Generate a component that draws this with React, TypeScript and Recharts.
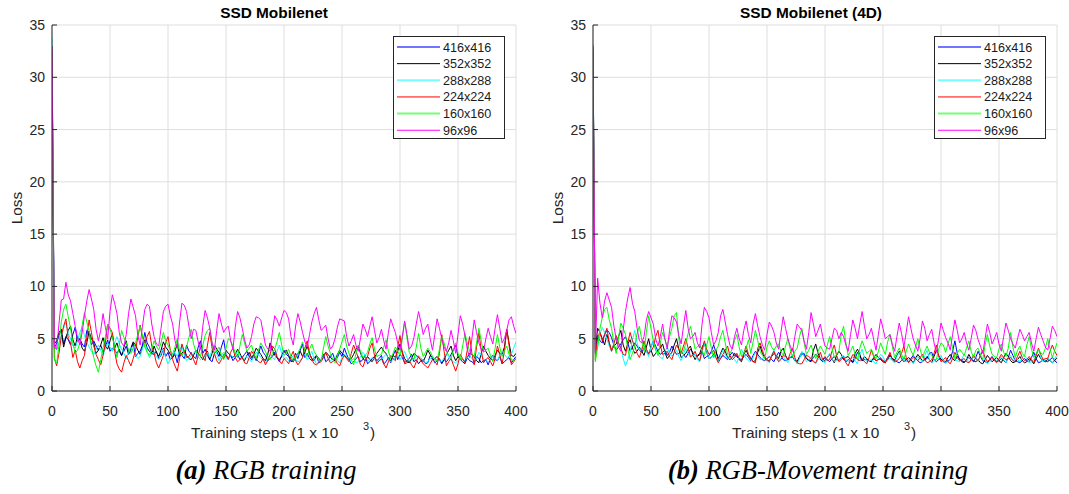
import React from 'react';
import { LineChart, Line, XAxis, YAxis, CartesianGrid, Legend } from 'recharts';

const steps = [
  0,
  2, 4, 6, 8, 10, 12, 14, 16, 18, 20,
  22, 24, 26, 28, 30, 32, 34, 36, 38, 40,
  42, 44, 46, 48, 50, 52, 54, 56, 58, 60,
  62, 64, 66, 68, 70, 72, 74, 76, 78, 80,
  82, 84, 86, 88, 90, 92, 94, 96, 98, 100,
  102, 104, 106, 108, 110, 112, 114, 116, 118, 120,
  122, 124, 126, 128, 130, 132, 134, 136, 138, 140,
  142, 144, 146, 148, 150, 152, 154, 156, 158, 160,
  162, 164, 166, 168, 170, 172, 174, 176, 178, 180,
  182, 184, 186, 188, 190, 192, 194, 196, 198, 200,
  202, 204, 206, 208, 210, 212, 214, 216, 218, 220,
  222, 224, 226, 228, 230, 232, 234, 236, 238, 240,
  242, 244, 246, 248, 250, 252, 254, 256, 258, 260,
  262, 264, 266, 268, 270, 272, 274, 276, 278, 280,
  282, 284, 286, 288, 290, 292, 294, 296, 298, 300,
  302, 304, 306, 308, 310, 312, 314, 316, 318, 320,
  322, 324, 326, 328, 330, 332, 334, 336, 338, 340,
  342, 344, 346, 348, 350, 352, 354, 356, 358, 360,
  362, 364, 366, 368, 370, 372, 374, 376, 378, 380,
  382, 384, 386, 388, 390, 392, 394, 396, 398, 400,
];

const seriesNames = ['416x416', '352x352', '288x288', '224x224', '160x160', '96x96'];
const seriesColors = ['#0000ff', '#000000', '#00ffff', '#ff0000', '#00ff00', '#ff00ff'];
const xTicks = [0, 50, 100, 150, 200, 250, 300, 350, 400];
const yTicks = [0, 5, 10, 15, 20, 25, 30, 35];

// ---------- (a) RGB training ----------
const rgb416 = [
  32,
  4.0, 4.6, 5.3, 5.9, 4.5, 5.2, 4.9, 4.4, 5.4, 6.1,
  4.7, 5.0, 4.5, 4.2, 5.8, 5.6, 4.4, 4.8, 4.3, 3.9,
  4.4, 3.7, 4.2, 4.9, 3.8, 4.1, 3.9, 3.6, 4.0, 3.4,
  3.8, 4.3, 3.5, 3.9, 4.6, 3.3, 3.6, 3.8, 4.4, 5.6,
  4.6, 4.2, 3.6, 3.5, 3.8, 3.1, 3.4, 4.1, 3.3, 3.7,
  3.0, 3.2, 3.5, 2.7, 3.9, 3.4, 3.1, 4.4, 3.8, 3.6,
  3.3, 3.1, 4.2, 4.8, 3.6, 4.0, 3.4, 3.0, 2.8, 3.6,
  3.8, 3.3, 4.2, 4.9, 3.5, 3.1, 3.4, 2.9, 3.2, 3.5,
  3.0, 3.2, 3.5, 3.8, 3.3, 3.0, 3.4, 2.9, 3.6, 4.3,
  3.7, 3.4, 2.9, 3.1, 3.3, 3.7, 3.2, 2.8, 3.4, 3.9,
  3.5, 3.3, 2.8, 2.9, 3.6, 3.1, 3.9, 4.5, 3.2, 3.6,
  3.1, 2.9, 3.2, 3.4, 2.7, 3.0, 3.5, 2.8, 3.0, 3.3,
  3.6, 2.9, 3.2, 3.7, 3.3, 4.1, 3.5, 3.0, 2.6, 2.8,
  3.1, 3.3, 2.8, 3.0, 3.4, 2.6, 2.8, 3.1, 3.3, 2.9,
  3.1, 3.4, 2.6, 2.8, 3.2, 2.7, 3.4, 3.9, 3.0, 3.5,
  3.2, 2.7, 2.9, 3.1, 3.5, 2.8, 3.0, 2.6, 2.9, 3.0,
  2.6, 2.7, 3.4, 3.2, 2.7, 2.9, 3.1, 2.6, 3.0, 2.8,
  3.1, 3.5, 3.9, 4.4, 3.3, 3.0, 2.8, 2.6, 3.2, 2.9,
  2.8, 2.6, 3.3, 3.1, 2.7, 2.9, 3.0, 2.5, 3.1, 3.4,
  3.0, 2.9, 3.3, 2.6, 2.8, 3.0, 3.2, 2.7, 3.0, 3.3,
];
const rgb352 = [
  33,
  4.5, 4.8, 5.6, 5.9, 4.2, 5.1, 5.8, 6.2, 4.9, 4.3,
  5.2, 4.9, 4.1, 3.8, 4.6, 5.7, 5.0, 4.6, 3.6, 3.9,
  4.4, 5.1, 4.3, 4.0, 4.8, 5.5, 4.1, 4.6, 3.8, 3.4,
  4.2, 4.8, 3.6, 4.1, 4.7, 4.4, 3.9, 3.5, 4.2, 4.9,
  4.1, 3.8, 3.5, 4.3, 3.7, 3.3, 3.9, 4.7, 4.2, 3.9,
  3.5, 3.2, 3.8, 4.5, 3.3, 3.6, 3.9, 3.4, 3.1, 3.0,
  3.4, 3.9, 3.6, 3.3, 3.0, 3.5, 3.8, 3.0, 3.6, 4.4,
  4.0, 3.7, 3.3, 3.1, 3.9, 3.6, 3.4, 3.2, 3.5, 4.0,
  3.6, 3.1, 2.9, 3.4, 3.7, 3.2, 3.5, 4.1, 3.8, 3.5,
  3.1, 2.9, 3.5, 4.6, 4.0, 3.4, 3.2, 3.0, 3.3, 3.7,
  3.9, 3.4, 3.0, 2.8, 3.2, 3.6, 3.8, 3.3, 3.7, 4.3,
  3.6, 3.1, 2.9, 3.4, 3.1, 2.9, 3.3, 3.7, 3.5, 3.2,
  3.0, 2.9, 3.5, 3.9, 3.6, 3.4, 3.2, 3.0, 3.1, 3.5,
  4.0, 4.3, 3.6, 3.1, 2.9, 3.3, 3.0, 2.8, 3.2, 3.6,
  3.9, 4.2, 3.8, 3.6, 3.1, 2.9, 3.4, 3.2, 3.8, 4.5,
  3.7, 3.1, 2.8, 2.7, 3.1, 3.6, 3.4, 3.2, 3.0, 2.8,
  3.3, 3.9, 3.5, 3.0, 3.1, 3.3, 2.9, 2.7, 3.0, 3.5,
  3.9, 4.3, 3.4, 2.9, 3.3, 3.1, 3.0, 2.8, 3.2, 3.6,
  3.5, 3.3, 2.9, 2.7, 3.6, 4.3, 3.8, 3.4, 3.1, 2.9,
  3.4, 3.9, 3.6, 3.5, 4.2, 5.9, 4.6, 3.4, 3.3, 3.6,
];
const rgb288 = [
  33.8,
  4.4, 3.9, 4.6, 5.2, 6.0, 6.6, 5.5, 5.0, 4.3, 4.1,
  4.8, 5.6, 6.1, 5.3, 4.7, 4.2, 3.8, 3.5, 4.0, 4.4,
  3.9, 3.4, 4.1, 4.6, 4.2, 3.8, 4.6, 5.2, 4.5, 4.0,
  3.6, 3.1, 3.7, 4.2, 3.8, 3.4, 3.1, 3.3, 4.1, 4.7,
  3.8, 3.2, 3.6, 3.8, 3.3, 3.0, 3.6, 4.0, 3.2, 2.6,
  3.0, 3.5, 3.7, 3.3, 3.9, 4.3, 3.5, 2.9, 3.1, 3.4,
  3.6, 3.9, 3.3, 3.0, 3.2, 3.4, 3.7, 3.2, 4.0, 4.4,
  3.5, 2.9, 3.4, 3.7, 3.2, 3.0, 3.5, 3.2, 3.4, 3.8,
  3.4, 3.0, 3.1, 3.3, 3.0, 2.8, 3.3, 3.7, 3.5, 3.2,
  2.9, 2.7, 3.1, 3.5, 3.2, 3.0, 3.8, 4.4, 3.6, 3.1,
  3.2, 2.9, 3.1, 3.4, 3.0, 2.8, 2.9, 3.2, 3.5, 3.0,
  3.3, 3.8, 3.0, 2.6, 2.8, 3.1, 3.3, 3.6, 3.2, 2.9,
  3.1, 3.3, 2.9, 2.7, 3.2, 3.5, 3.3, 3.0, 2.9, 3.1,
  2.7, 2.8, 3.3, 3.7, 3.4, 2.9, 3.0, 3.2, 3.0, 2.8,
  2.9, 3.0, 3.3, 3.5, 3.1, 2.8, 3.0, 3.2, 3.5, 3.0,
  3.4, 3.8, 3.2, 2.8, 2.9, 3.1, 3.3, 3.4, 3.2, 2.9,
  2.7, 2.8, 3.1, 3.3, 3.0, 3.0, 2.9, 2.8, 3.2, 3.6,
  3.3, 3.0, 2.8, 2.7, 2.9, 3.1, 3.0, 2.9, 3.2, 3.4,
  3.1, 2.8, 3.2, 3.7, 3.4, 3.1, 2.9, 2.8, 3.0, 3.3,
  3.1, 2.9, 3.4, 3.8, 3.5, 3.2, 3.3, 3.5, 4.1, 4.7,
];
const rgb224 = [
  32.5,
  3.2, 2.4, 3.6, 5.2, 6.2, 6.9, 5.0, 4.6, 3.2, 3.9,
  2.8, 2.2, 2.9, 3.4, 5.1, 6.8, 5.6, 4.3, 3.5, 3.0,
  2.5, 3.4, 4.6, 6.4, 6.0, 5.6, 3.8, 2.6, 2.1, 1.8,
  2.7, 3.4, 2.9, 2.4, 3.1, 3.9, 5.2, 6.3, 5.1, 4.6,
  5.2, 5.7, 4.3, 3.6, 2.7, 2.2, 2.8, 3.4, 4.6, 5.2,
  3.9, 3.0, 2.4, 1.9, 3.1, 4.5, 3.8, 3.2, 3.3, 3.7,
  3.0, 2.5, 3.4, 4.2, 3.3, 2.9, 4.4, 5.6, 4.1, 3.6,
  2.9, 2.6, 3.0, 3.5, 3.4, 3.0, 3.7, 4.1, 3.2, 2.8,
  3.0, 3.3, 2.7, 2.6, 3.2, 3.8, 3.5, 3.1, 2.8, 2.7,
  3.1, 2.5, 2.9, 3.5, 4.3, 4.0, 3.3, 2.9, 2.6, 3.1,
  2.9, 2.6, 3.3, 3.8, 2.9, 2.5, 2.8, 3.2, 4.1, 4.8,
  3.6, 3.0, 2.6, 2.5, 2.7, 2.8, 3.2, 3.7, 3.1, 2.7,
  2.8, 3.1, 2.6, 2.4, 3.0, 3.4, 3.1, 2.8, 3.6, 4.4,
  3.8, 3.2, 2.5, 2.3, 2.9, 3.3, 4.1, 4.6, 3.4, 2.6,
  2.9, 3.1, 2.6, 2.2, 2.8, 3.4, 3.1, 2.9, 4.2, 5.3,
  3.6, 2.6, 2.7, 2.9, 2.5, 2.2, 2.8, 3.3, 2.9, 2.6,
  2.4, 2.2, 2.6, 3.0, 2.8, 2.5, 3.6, 5.4, 3.8, 2.4,
  2.8, 3.1, 2.5, 1.9, 2.6, 3.5, 3.1, 2.7, 3.9, 5.2,
  3.6, 2.5, 4.2, 5.6, 3.9, 2.7, 3.0, 3.2, 2.8, 2.4,
  3.1, 4.3, 3.5, 2.6, 3.8, 5.9, 4.4, 2.5, 2.8, 3.1,
];
const rgb160 = [
  33,
  3.0, 2.6, 4.4, 6.6, 7.8, 8.3, 7.1, 6.0, 4.6, 3.6,
  3.9, 4.6, 6.3, 7.5, 6.6, 5.8, 4.2, 3.2, 2.4, 1.8,
  3.0, 4.1, 5.2, 6.4, 5.9, 5.2, 4.3, 3.2, 4.4, 5.8,
  5.1, 4.6, 3.9, 3.6, 4.1, 4.6, 5.4, 6.2, 5.3, 4.2,
  3.7, 3.4, 4.0, 4.8, 4.3, 3.9, 4.6, 5.6, 4.8, 4.4,
  3.9, 3.5, 4.2, 5.0, 3.8, 3.4, 3.8, 4.2, 5.1, 5.9,
  4.5, 3.8, 3.5, 3.3, 4.4, 5.3, 5.8, 6.0, 4.6, 3.6,
  3.9, 4.2, 3.4, 3.0, 4.1, 5.0, 4.8, 4.3, 3.6, 3.2,
  4.3, 5.4, 4.6, 3.8, 4.1, 4.4, 3.6, 3.1, 3.9, 4.6,
  4.2, 3.8, 3.2, 3.0, 3.6, 4.0, 4.7, 5.6, 4.4, 3.4,
  3.6, 4.0, 3.3, 2.9, 3.2, 3.6, 4.1, 4.7, 3.8, 3.3,
  4.0, 4.5, 3.8, 3.4, 3.0, 2.8, 4.1, 5.2, 4.3, 3.6,
  3.0, 2.7, 3.4, 4.0, 4.7, 5.4, 4.3, 3.6, 3.0, 2.5,
  3.6, 4.4, 3.8, 3.2, 3.4, 3.7, 4.5, 5.1, 4.0, 3.3,
  3.4, 3.5, 4.2, 4.9, 3.8, 3.1, 3.6, 4.2, 3.8, 3.4,
  5.0, 6.6, 5.1, 3.7, 3.3, 3.0, 4.2, 5.5, 4.1, 3.3,
  3.7, 4.1, 3.8, 3.3, 3.0, 2.9, 4.0, 5.2, 4.6, 3.8,
  3.4, 3.1, 3.9, 4.6, 3.6, 3.0, 4.3, 5.5, 4.6, 3.8,
  3.5, 3.3, 4.6, 6.0, 4.8, 3.7, 3.9, 4.1, 3.4, 2.8,
  4.1, 5.4, 4.2, 3.3, 3.8, 4.3, 3.5, 3.0, 2.9, 3.1,
];
const rgb96 = [
  33,
  4.2, 4.0, 6.4, 8.7, 8.8, 10.4, 9.2, 8.6, 7.4, 6.2,
  5.1, 4.4, 5.6, 7.2, 8.6, 9.7, 8.8, 7.8, 5.9, 4.8,
  5.8, 7.4, 6.1, 5.0, 7.6, 9.2, 8.4, 7.4, 5.6, 4.6,
  4.3, 5.4, 7.4, 8.8, 8.0, 7.2, 5.3, 4.4, 6.2, 7.8,
  8.3, 8.1, 6.4, 5.2, 4.5, 4.3, 6.0, 7.6, 8.1, 8.3,
  7.2, 6.4, 4.8, 4.2, 6.6, 8.4, 8.2, 7.6, 6.2, 5.0,
  5.9, 5.8, 4.7, 4.0, 6.2, 7.7, 7.0, 6.0, 4.6, 3.9,
  5.8, 7.4, 6.4, 5.6, 6.0, 6.2, 4.8, 4.0, 6.1, 7.6,
  7.0, 6.0, 4.9, 4.1, 4.4, 5.2, 6.4, 7.1, 7.0, 6.8,
  5.6, 4.4, 4.0, 3.8, 5.6, 7.2, 6.8, 6.2, 7.0, 7.7,
  7.5, 6.9, 5.2, 4.4, 6.2, 7.4, 6.6, 5.6, 4.7, 4.2,
  5.4, 6.6, 7.4, 8.0, 6.8, 5.8, 6.0, 6.3, 5.0, 4.0,
  4.3, 5.0, 6.1, 6.9, 6.8, 6.7, 5.2, 4.3, 4.8, 5.4,
  4.4, 3.8, 5.1, 6.4, 5.9, 5.2, 6.2, 7.1, 5.8, 4.6,
  5.1, 5.9, 4.8, 4.0, 5.6, 6.9, 6.2, 5.6, 4.6, 3.9,
  5.2, 6.7, 5.4, 4.0, 4.3, 5.1, 6.4, 7.6, 6.6, 5.4,
  6.0, 6.4, 5.0, 3.9, 5.4, 6.9, 6.0, 5.0, 4.2, 3.8,
  4.6, 5.8, 4.8, 3.6, 5.4, 7.2, 6.4, 5.3, 4.0, 3.2,
  5.0, 6.8, 5.6, 4.6, 4.0, 3.8, 5.0, 6.0, 5.2, 4.5,
  6.0, 7.3, 6.0, 4.6, 5.0, 5.8, 6.8, 7.1, 6.2, 5.5,
];

// ---------- (b) RGB-Movement training ----------
const mov416 = [
  32,
  3.8, 5.3, 4.8, 4.6, 5.4, 5.8, 5.6, 5.1, 4.4, 3.9,
  4.2, 4.5, 4.9, 5.2, 4.6, 3.8, 4.2, 4.6, 4.3, 3.9,
  3.7, 4.1, 3.8, 3.5, 4.2, 4.8, 4.3, 3.8, 3.5, 3.7,
  3.9, 3.4, 3.7, 4.3, 3.9, 3.5, 3.6, 3.8, 3.5, 3.2,
  3.6, 4.0, 3.7, 3.4, 3.3, 3.5, 3.8, 3.1, 3.3, 3.4,
  3.8, 4.4, 3.7, 3.2, 3.1, 3.4, 3.2, 3.0, 3.4, 3.7,
  3.4, 3.3, 3.1, 3.0, 3.3, 3.5, 3.2, 2.9, 3.4, 3.8,
  3.5, 3.2, 3.0, 2.9, 3.1, 3.3, 3.0, 2.8, 3.3, 3.7,
  3.4, 3.0, 2.9, 3.0, 3.2, 3.3, 3.0, 2.8, 3.2, 3.5,
  3.6, 3.1, 3.0, 2.9, 3.2, 3.5, 3.3, 3.0, 2.9, 3.2,
  3.0, 2.8, 3.1, 3.3, 3.0, 2.9, 3.2, 3.1, 2.8, 3.0,
  2.9, 2.7, 3.1, 3.7, 3.3, 2.9, 3.0, 3.0, 2.9, 2.8,
  3.1, 2.9, 3.0, 3.1, 2.9, 2.8, 3.2, 3.5, 3.1, 3.0,
  2.8, 2.7, 2.9, 3.2, 3.0, 2.8, 3.1, 3.4, 3.1, 2.9,
  2.7, 2.8, 3.0, 3.1, 3.6, 3.7, 3.0, 2.8, 3.0, 3.1,
  2.8, 2.7, 2.9, 3.0, 3.8, 4.8, 3.6, 3.0, 2.9, 2.8,
  3.0, 3.2, 3.0, 2.8, 3.2, 3.8, 3.3, 2.9, 2.8, 2.7,
  3.0, 3.3, 3.0, 2.8, 2.9, 3.1, 2.9, 2.7, 3.2, 3.9,
  3.4, 2.9, 2.8, 2.7, 2.9, 3.1, 2.9, 2.8, 3.2, 3.7,
  3.1, 2.7, 2.8, 3.0, 2.9, 2.8, 3.0, 3.2, 2.9, 2.7,
];
const mov352 = [
  32.8,
  4.0, 6.0, 5.6, 5.0, 4.4, 5.4, 4.6, 3.9, 4.3, 4.5,
  5.2, 5.8, 4.4, 3.8, 4.5, 4.9, 4.1, 3.6, 3.8, 4.2,
  3.8, 3.4, 4.2, 5.0, 3.9, 3.3, 3.6, 3.9, 4.1, 4.5,
  3.7, 3.1, 3.4, 3.7, 4.4, 5.0, 4.0, 3.2, 3.4, 3.6,
  4.0, 4.3, 3.5, 3.0, 3.4, 3.6, 4.2, 4.6, 3.7, 3.1,
  3.2, 3.5, 3.9, 2.9, 3.6, 4.1, 3.8, 3.2, 3.0, 3.2,
  3.6, 3.4, 3.0, 2.8, 3.5, 3.9, 3.4, 3.1, 2.8, 2.9,
  3.7, 4.3, 3.6, 3.2, 2.9, 2.9, 3.3, 3.6, 3.4, 3.1,
  3.8, 4.1, 3.4, 3.0, 3.2, 3.3, 2.9, 2.8, 3.3, 3.7,
  3.4, 3.1, 2.9, 2.8, 3.9, 4.5, 3.6, 3.1, 2.8, 2.9,
  3.2, 3.5, 3.1, 2.7, 3.4, 3.8, 3.5, 3.0, 3.2, 3.3,
  3.0, 2.8, 3.6, 4.0, 3.5, 2.9, 3.3, 3.1, 2.9, 2.8,
  3.2, 3.5, 3.2, 3.0, 2.8, 2.7, 3.0, 3.4, 3.1, 2.9,
  3.4, 3.8, 3.1, 2.8, 3.0, 3.2, 3.0, 2.7, 3.1, 3.5,
  3.2, 2.9, 3.0, 3.3, 3.0, 2.7, 3.3, 3.9, 3.4, 3.0,
  2.9, 2.8, 3.2, 3.5, 3.1, 2.9, 3.3, 3.1, 2.8, 2.7,
  3.0, 3.5, 3.1, 2.9, 2.8, 3.0, 2.7, 2.6, 3.0, 3.4,
  3.1, 2.8, 3.0, 3.2, 2.9, 2.7, 3.2, 3.6, 3.3, 2.9,
  2.7, 2.8, 3.0, 3.3, 2.9, 2.7, 2.8, 3.1, 2.9, 2.6,
  3.1, 3.5, 3.1, 2.9, 2.8, 3.0, 2.9, 2.7, 2.9, 3.2,
];
const mov288 = [
  33.2,
  3.5, 4.2, 5.4, 6.1, 5.6, 5.0, 4.3, 3.8, 4.6, 5.2,
  4.6, 4.2, 3.1, 2.4, 3.0, 3.7, 4.9, 5.8, 4.6, 3.9,
  4.1, 4.4, 3.8, 3.3, 4.2, 4.8, 4.0, 3.5, 3.2, 3.1,
  3.8, 4.2, 3.6, 3.3, 3.6, 3.9, 3.3, 2.9, 3.5, 4.1,
  3.6, 3.2, 3.4, 3.5, 3.0, 2.8, 3.7, 4.6, 3.8, 3.1,
  3.2, 3.4, 3.1, 2.9, 3.4, 3.9, 3.5, 3.1, 3.2, 3.3,
  3.0, 2.7, 3.3, 4.0, 3.5, 3.1, 2.9, 2.8, 3.2, 3.7,
  3.3, 3.0, 3.1, 3.3, 3.0, 2.7, 3.4, 3.9, 3.3, 2.9,
  3.1, 3.3, 3.0, 2.7, 3.2, 3.5, 2.9, 2.6, 3.1, 3.8,
  3.3, 2.8, 3.0, 3.2, 2.9, 2.6, 3.0, 3.2, 2.9, 2.7,
  3.2, 3.6, 3.1, 2.8, 2.9, 3.0, 3.2, 3.4, 3.0, 2.8,
  3.0, 3.2, 2.9, 2.6, 3.5, 4.0, 3.2, 2.8, 2.9, 3.0,
  2.8, 2.6, 3.1, 3.5, 3.3, 2.8, 2.9, 3.2, 2.9, 2.7,
  3.3, 3.7, 3.2, 2.9, 2.8, 3.0, 2.9, 2.6, 3.0, 3.3,
  3.0, 2.8, 3.4, 3.9, 3.0, 2.7, 2.9, 3.1, 3.1, 3.4,
  2.9, 2.7, 2.8, 3.0, 3.2, 3.0, 2.9, 2.8, 3.1, 3.5,
  3.2, 2.7, 2.9, 3.2, 3.3, 2.8, 3.5, 3.7, 3.0, 2.6,
  2.8, 3.0, 3.1, 2.9, 3.0, 3.3, 3.0, 2.7, 3.1, 3.4,
  2.9, 3.1, 3.0, 2.8, 3.2, 3.4, 3.1, 2.7, 2.8, 3.0,
  3.3, 4.0, 3.2, 2.8, 3.0, 3.2, 2.9, 2.7, 3.1, 3.5,
];
const mov224 = [
  32.5,
  3.0, 5.2, 5.6, 4.8, 5.4, 6.0, 4.6, 3.8, 4.5, 5.3,
  4.6, 4.1, 3.5, 3.4, 4.6, 5.6, 4.8, 4.3, 3.6, 3.2,
  3.9, 4.8, 4.0, 3.6, 3.8, 4.2, 5.2, 5.8, 4.4, 3.5,
  3.6, 3.8, 3.3, 3.0, 3.7, 4.4, 4.0, 3.6, 4.3, 5.0,
  4.1, 3.3, 3.4, 3.8, 3.2, 2.9, 3.9, 4.8, 4.0, 3.5,
  3.6, 3.9, 3.2, 2.7, 3.1, 3.5, 3.9, 4.3, 3.4, 3.0,
  3.2, 3.6, 3.1, 2.9, 3.6, 4.3, 3.5, 3.2, 2.8, 2.7,
  4.1, 4.6, 3.9, 3.3, 3.0, 2.8, 3.4, 3.8, 3.2, 2.8,
  3.0, 3.4, 3.3, 3.0, 3.6, 4.1, 3.2, 2.7, 2.6, 2.6,
  3.0, 3.4, 3.3, 3.1, 2.8, 2.7, 3.2, 3.7, 3.0, 3.3,
  2.9, 3.0, 3.8, 4.4, 3.4, 2.8, 3.0, 3.3, 2.7, 2.4,
  3.0, 3.5, 3.3, 3.0, 2.9, 3.1, 2.8, 2.6, 3.2, 3.9,
  3.3, 2.9, 3.0, 3.2, 2.8, 2.7, 3.2, 3.7, 3.0, 2.8,
  2.9, 3.1, 3.6, 4.3, 3.2, 2.7, 3.0, 3.2, 3.1, 2.9,
  3.2, 3.5, 3.0, 2.7, 2.8, 3.0, 3.6, 4.4, 3.3, 2.8,
  3.0, 3.2, 2.8, 2.6, 3.1, 3.7, 3.2, 2.9, 3.0, 3.1,
  2.8, 2.7, 3.0, 3.4, 3.1, 2.9, 3.4, 3.9, 3.2, 2.8,
  3.0, 3.2, 2.9, 2.7, 3.1, 3.5, 3.2, 3.0, 3.1, 3.2,
  2.9, 2.8, 3.3, 3.8, 3.2, 2.9, 3.0, 3.3, 3.0, 2.7,
  3.4, 4.1, 3.5, 3.0, 3.1, 3.1, 3.8, 4.4, 3.8, 3.4,
];
const mov160 = [
  33,
  2.8, 4.2, 6.0, 7.0, 7.8, 8.0, 6.8, 6.0, 4.5, 3.6,
  5.1, 6.5, 6.0, 5.4, 4.0, 3.0, 3.6, 4.3, 5.5, 6.2,
  4.9, 3.8, 5.6, 7.2, 6.0, 4.8, 3.9, 3.4, 4.6, 5.6,
  4.9, 4.3, 5.2, 6.0, 7.2, 7.5, 5.0, 3.6, 3.8, 4.6,
  5.5, 6.2, 5.1, 4.0, 4.2, 4.5, 3.8, 3.4, 4.4, 5.2,
  4.1, 3.2, 3.9, 4.3, 5.2, 5.8, 4.6, 3.5, 3.6, 4.0,
  4.8, 5.4, 4.2, 3.3, 3.6, 4.1, 4.9, 3.6, 4.7, 5.8,
  4.8, 3.8, 3.4, 3.1, 4.2, 4.8, 4.2, 3.9, 4.3, 4.5,
  3.8, 3.4, 4.3, 5.0, 4.0, 3.3, 3.8, 4.1, 5.2, 6.0,
  4.6, 3.5, 3.9, 4.4, 3.6, 3.1, 3.8, 4.3, 3.9, 3.5,
  4.4, 5.2, 4.1, 3.2, 3.5, 3.8, 5.4, 6.2, 4.6, 3.4,
  3.8, 4.3, 3.5, 3.0, 4.1, 4.8, 4.2, 3.6, 3.8, 4.0,
  3.4, 3.1, 3.8, 4.6, 4.0, 3.5, 4.7, 5.4, 4.3, 3.2,
  3.7, 4.1, 3.5, 3.0, 3.8, 4.5, 3.9, 3.4, 4.2, 5.0,
  4.0, 3.2, 3.8, 4.3, 3.7, 3.4, 3.0, 3.0, 4.0, 4.6,
  4.4, 3.7, 4.5, 5.2, 4.1, 3.1, 3.6, 4.0, 3.7, 3.4,
  4.1, 4.8, 3.8, 3.2, 3.9, 4.1, 3.5, 3.0, 4.4, 5.4,
  4.3, 3.5, 3.3, 3.2, 4.0, 4.5, 3.7, 3.3, 4.1, 5.6,
  4.2, 3.2, 3.9, 4.3, 3.6, 3.3, 4.4, 5.2, 4.0, 3.2,
  3.6, 4.0, 3.6, 3.5, 4.1, 5.0, 4.0, 3.2, 3.9, 4.6,
];
const mov96 = [
  33,
  3.6, 10.8, 8.4, 7.0, 8.6, 9.4, 8.7, 8.0, 6.2, 5.0,
  4.2, 3.8, 5.8, 7.6, 8.9, 9.9, 8.4, 7.6, 6.0, 4.8,
  4.6, 5.2, 6.8, 7.6, 7.0, 6.4, 5.0, 4.3, 5.2, 6.4,
  5.0, 4.0, 5.8, 7.2, 7.0, 6.6, 5.3, 4.5, 6.2, 7.7,
  6.0, 5.0, 5.2, 5.6, 4.6, 4.1, 6.4, 8.0, 7.6, 7.0,
  5.6, 4.4, 4.8, 5.6, 7.2, 7.8, 6.6, 5.4, 4.4, 4.0,
  5.2, 6.0, 5.0, 4.4, 5.8, 6.7, 5.4, 4.6, 6.4, 7.4,
  6.2, 5.2, 4.4, 3.9, 5.4, 6.6, 6.2, 5.6, 4.6, 4.0,
  5.6, 7.1, 6.0, 5.0, 4.3, 3.8, 5.2, 6.4, 6.1, 5.8,
  4.8, 4.0, 5.6, 7.5, 6.4, 5.2, 5.8, 6.4, 5.2, 4.3,
  4.1, 4.0, 5.0, 6.0, 5.8, 5.0, 5.6, 5.2, 4.4, 3.8,
  5.4, 6.8, 6.0, 5.0, 6.4, 7.6, 6.2, 5.0, 5.4, 6.0,
  4.9, 3.9, 5.4, 6.9, 6.0, 5.0, 5.2, 5.4, 4.5, 3.8,
  5.2, 6.5, 5.5, 4.2, 5.6, 7.1, 6.0, 5.0, 4.4, 3.8,
  5.0, 6.7, 6.0, 4.8, 5.4, 5.9, 4.6, 3.7, 5.0, 6.5,
  5.8, 5.1, 4.6, 3.9, 5.4, 6.8, 5.8, 4.6, 5.0, 5.6,
  4.6, 3.9, 5.0, 6.3, 5.8, 4.9, 4.3, 3.6, 5.0, 6.4,
  5.6, 4.5, 5.0, 5.6, 4.5, 3.8, 5.2, 6.5, 5.8, 5.0,
  4.5, 4.1, 5.0, 5.9, 5.4, 4.8, 5.2, 5.6, 4.6, 3.8,
  5.0, 6.1, 5.4, 4.8, 4.2, 3.9, 5.0, 6.2, 5.8, 5.2,
];

const rgbSeries = [rgb416, rgb352, rgb288, rgb224, rgb160, rgb96];
const movSeries = [mov416, mov352, mov288, mov224, mov160, mov96];

const SANS = '"Liberation Sans", Arial, Helvetica, sans-serif';
const SERIF = '"Liberation Serif", "Times New Roman", serif';
const AX = '#262626';

function buildRows(series: number[][]) {
  return steps.map((x, i) => {
    const row: Record<string, number> = { x };
    series.forEach((s, k) => {
      row['s' + k] = s[i];
    });
    return row;
  });
}

const YTick = (props: any) => {
  const { x, y, payload } = props;
  return (
    <g>
      <line x1={x} y1={y} x2={x + 5} y2={y} stroke={AX} strokeWidth={1} />
      <text x={x - 7} y={y + 5} textAnchor="end" fontFamily={SANS} fontSize={14} fill={AX}>
        {payload.value}
      </text>
    </g>
  );
};

const XTick = (props: any) => {
  const { x, y, payload } = props;
  return (
    <g>
      <line x1={x} y1={y} x2={x} y2={y - 5} stroke={AX} strokeWidth={1} />
      <text x={x} y={y + 25} textAnchor="middle" fontFamily={SANS} fontSize={14} fill={AX}>
        {payload.value}
      </text>
    </g>
  );
};

const LegendBox = () => (
  <div
    style={{
      width: 112,
      height: 103,
      boxSizing: 'border-box',
      border: `1px solid ${AX}`,
      background: '#fff',
      position: 'relative',
    }}
  >
    <svg width={110} height={101} style={{ position: 'absolute', left: 0, top: 0 }}>
      {seriesNames.map((n, i) => {
        const cy = 10 + i * 16.65;
        const thick = i === 0 || i === 2 || i === 4;
        return (
          <g key={n}>
            <line
              x1={3}
              x2={46}
              y1={cy}
              y2={cy}
              stroke={seriesColors[i]}
              strokeWidth={thick ? 2 : 1}
              strokeOpacity={thick ? 0.55 : 1}
            />
            <text x={49} y={cy + 4.5} fontFamily={SANS} fontSize={12.6} fill="#1a1a1a">
              {n}
            </text>
          </g>
        );
      })}
    </svg>
  </div>
);

type PanelProps = {
  left: number;
  width: number;
  series: number[][];
};

const PLOT_W = 464;
const CH_H = 430;

const Panel = ({ left, width, series }: PanelProps) => {
  const rows = buildRows(series);
  const marginRight = width - 52 - PLOT_W;
  return (
    <div style={{ position: 'absolute', left, top: 0 }}>
      <LineChart
        width={width}
        height={CH_H}
        data={rows}
        margin={{ top: 25, right: marginRight, bottom: CH_H - 391 - 30, left: 0 }}
      >
        <CartesianGrid stroke="#dedede" strokeWidth={1} />
        <XAxis
          dataKey="x"
          type="number"
          domain={[0, 400]}
          ticks={xTicks}
          interval={0}
          height={30}
          tickSize={0}
          tickMargin={0}
          tick={<XTick />}
          axisLine={{ stroke: AX, strokeWidth: 1 }}
          tickLine={false}
          allowDataOverflow
        />
        <YAxis
          type="number"
          domain={[0, 35]}
          ticks={yTicks}
          interval={0}
          width={52}
          tickSize={0}
          tickMargin={0}
          tick={<YTick />}
          axisLine={{ stroke: AX, strokeWidth: 1 }}
          tickLine={false}
          allowDataOverflow
        />
        {seriesNames.map((n, k) => (
          <Line
            key={n}
            type="linear"
            dataKey={'s' + k}
            name={n}
            stroke={seriesColors[k]}
            strokeWidth={1}
            dot={false}
            activeDot={false}
            isAnimationActive={false}
          />
        ))}
        <Legend
          layout="horizontal"
          verticalAlign="middle"
          align="center"
          content={() => <LegendBox />}
          wrapperStyle={{ left: 52 + PLOT_W - 123, top: 36, width: 112, height: 103 }}
        />
      </LineChart>
    </div>
  );
};

const Texts = ({ dx, title, titleX, tag, caption, capX }: any) => (
  <g>
    <text x={titleX} y={18} textAnchor="middle" fontFamily={SANS} fontWeight="bold" fontSize={15.4} fill="#000">
      {title}
    </text>
    <text
      transform={`translate(${21.5 + dx},208) rotate(-90)`}
      textAnchor="middle"
      fontFamily={SANS}
      fontSize={15.4}
      fill={AX}
    >
      Loss
    </text>
    <text x={191 + dx} y={438} fontFamily={SANS} fontSize={15.4} fill={AX}>
      Training steps (1 x 10
    </text>
    <text x={363 + dx} y={430} fontFamily={SANS} fontSize={11} fill={AX}>
      3
    </text>
    <text x={370 + dx} y={438} fontFamily={SANS} fontSize={15.4} fill={AX}>
      )
    </text>
    <text x={capX} y={479} textAnchor="middle" fontFamily={SERIF} fontStyle="italic" fontSize={26.5} fill="#000">
      <tspan fontWeight="bold">{tag}</tspan>
      <tspan>{caption}</tspan>
    </text>
  </g>
);

export default function App() {
  return (
    <div style={{ position: 'absolute', left: 0, top: 0, width: 1069, height: 494, background: '#fff', overflow: 'hidden' }}>
      <Panel left={0} width={540} series={rgbSeries} />
      <Panel left={541} width={528} series={movSeries} />
      <svg width={1069} height={494} style={{ position: 'absolute', left: 0, top: 0, pointerEvents: 'none' }}>
        <Texts dx={0} title="SSD Mobilenet" titleX={274} tag="(a)" caption=" RGB training" capX={266} />
        <Texts dx={541} title="SSD Mobilenet (4D)" titleX={811} tag="(b)" caption=" RGB-Movement training" capX={818} />
      </svg>
    </div>
  );
}
